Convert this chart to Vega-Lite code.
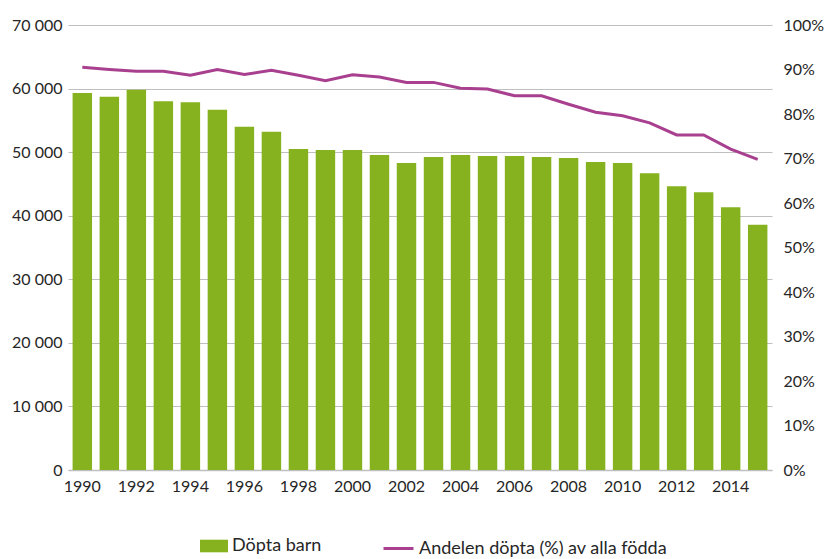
{
  "$schema": "https://vega.github.io/schema/vega-lite/v6.json",
  "width": 704,
  "height": 445,
  "autosize": {"type": "none"},
  "padding": {"left": 68, "top": 25, "right": 56, "bottom": 89},
  "background": "white",
  "config": {
    "font": "Lato",
    "view": {"stroke": null},
    "axis": {"labelFont": "Lato", "labelFontSize": 16, "labelColor": "#262626", "ticks": false, "labelOverlap": false},
    "legend": {"labelFont": "Lato", "labelFontSize": 18, "labelColor": "#262626", "labelLimit": 500}
  },
  "data": {
    "values": [
      {"year": "1990", "dopta": 59300, "andel": 90.5},
      {"year": "1991", "dopta": 58700, "andel": 90.0},
      {"year": "1992", "dopta": 59800, "andel": 89.6},
      {"year": "1993", "dopta": 58000, "andel": 89.6},
      {"year": "1994", "dopta": 57840, "andel": 88.7},
      {"year": "1995", "dopta": 56680, "andel": 90.0},
      {"year": "1996", "dopta": 54000, "andel": 88.9},
      {"year": "1997", "dopta": 53220, "andel": 89.8},
      {"year": "1998", "dopta": 50500, "andel": 88.7},
      {"year": "1999", "dopta": 50340, "andel": 87.5},
      {"year": "2000", "dopta": 50340, "andel": 88.8},
      {"year": "2001", "dopta": 49550, "andel": 88.3},
      {"year": "2002", "dopta": 48290, "andel": 87.1},
      {"year": "2003", "dopta": 49240, "andel": 87.1},
      {"year": "2004", "dopta": 49550, "andel": 85.8},
      {"year": "2005", "dopta": 49400, "andel": 85.6},
      {"year": "2006", "dopta": 49400, "andel": 84.1},
      {"year": "2007", "dopta": 49240, "andel": 84.1},
      {"year": "2008", "dopta": 49080, "andel": 82.2},
      {"year": "2009", "dopta": 48450, "andel": 80.4},
      {"year": "2010", "dopta": 48290, "andel": 79.6},
      {"year": "2011", "dopta": 46670, "andel": 78.0},
      {"year": "2012", "dopta": 44630, "andel": 75.3},
      {"year": "2013", "dopta": 43680, "andel": 75.3},
      {"year": "2014", "dopta": 41320, "andel": 72.1},
      {"year": "2015", "dopta": 38590, "andel": 69.8}
    ]
  },
  "encoding": {
    "x": {
      "field": "year",
      "type": "ordinal",
      "scale": {"paddingInner": 0.28, "paddingOuter": 0.17},
      "axis": {
        "title": null,
        "labelAngle": 0,
        "labelPadding": 8,
        "values": ["1990","1992","1994","1996","1998","2000","2002","2004","2006","2008","2010","2012","2014"],
        "domain": true,
        "domainColor": "#BFBFBF",
        "domainWidth": 1.5,
        "grid": false
      }
    }
  },
  "layer": [
    {
      "mark": {"type": "bar"},
      "encoding": {
        "y": {
          "field": "dopta",
          "type": "quantitative",
          "scale": {"domain": [0, 70000]},
          "axis": {
            "title": null,
            "domain": false,
            "grid": true,
            "gridColor": "#BFBFBF",
            "gridWidth": 1,
            "values": [0,10000,20000,30000,40000,50000,60000,70000],
            "labelPadding": 6,
            "labelExpr": "datum.value == 0 ? '0' : format(datum.value/1000, 'd') + ' 000'"
          }
        },
        "fill": {
          "datum": "Döpta barn",
          "scale": {"range": ["#86B21F"]},
          "legend": {
            "title": null,
            "orient": "none",
            "legendX": 132,
            "legendY": 507,
            "symbolType": "M-1,-0.45H1V0.45H-1Z",
            "symbolSize": 784,
            "symbolStrokeWidth": 0
          }
        }
      }
    },
    {
      "mark": {"type": "line", "strokeWidth": 3},
      "encoding": {
        "y": {
          "field": "andel",
          "type": "quantitative",
          "scale": {"domain": [0, 100]},
          "axis": {
            "title": null,
            "orient": "right",
            "domain": false,
            "grid": false,
            "values": [0,10,20,30,40,50,60,70,80,90,100],
            "labelPadding": 11,
            "labelExpr": "datum.value + '%'"
          }
        },
        "stroke": {
          "datum": "Andelen döpta (%) av alla födda",
          "scale": {"range": ["#A8408F"]},
          "legend": {
            "title": null,
            "orient": "none",
            "legendX": 314,
            "legendY": 507,
            "symbolType": "stroke",
            "symbolSize": 900,
            "symbolStrokeWidth": 3
          }
        }
      }
    }
  ],
  "resolve": {"scale": {"y": "independent", "fill": "independent", "stroke": "independent"}}
}
